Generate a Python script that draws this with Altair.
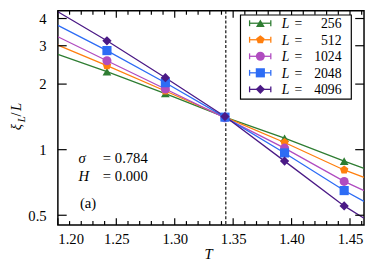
import altair as alt
import pandas as pd

# ---------------- data ----------------
series = ["256", "512", "1024", "2048", "4096"]
colors = ["#2e7d32", "#ff7f0e", "#b04cc0", "#2d6cf5", "#4b1a86"]
pentagon = "M0,-1L0.951,-0.309L0.588,0.809L-0.588,0.809L-0.951,-0.309Z"
shapes = ["triangle-up", pentagon, "circle", "square", "diamond"]
sizes = [80, 90, 100, 95, 80]

T_points = [1.242, 1.292, 1.343, 1.394, 1.445]
xi_256 = [2.28, 1.81, 1.41, 1.129, 0.886]
xi_512 = [2.43, 1.86, 1.41, 1.079, 0.807]
xi_1024 = [2.56, 1.90, 1.40, 1.017, 0.715]
xi_2048 = [2.85, 2.03, 1.41, 0.966, 0.649]
xi_4096 = [3.16, 2.14, 1.42, 0.886, 0.552]

# fit-curve values at the left and right edges of the frame
T_edges = [1.20, 1.462]
edge_256 = [2.74, 0.821]
edge_512 = [3.02, 0.746]
edge_1024 = [3.30, 0.649]
edge_2048 = [3.72, 0.579]
edge_4096 = [4.30, 0.484]

Tc = 1.3437

x_major = [1.20, 1.25, 1.30, 1.35, 1.40, 1.45]
x_minor = [1.21, 1.22, 1.23, 1.24, 1.26, 1.27, 1.28, 1.29, 1.31, 1.32, 1.33,
           1.34, 1.36, 1.37, 1.38, 1.39, 1.41, 1.42, 1.43, 1.44, 1.46]
y_major = [0.5, 1, 2, 3, 4]

x_domain = [1.20, 1.462]
y_domain = [0.451, 4.34]

# ---------------- tables ----------------
pts_vals = [xi_256, xi_512, xi_1024, xi_2048, xi_4096]
edge_vals = [edge_256, edge_512, edge_1024, edge_2048, edge_4096]

rows_p, rows_l = [], []
for i, (s, pv, ev) in enumerate(zip(series, pts_vals, edge_vals)):
    for t, v in zip(T_points, pv):
        rows_p.append({"L": s, "T": t, "v": v, "k": i})
    lt = [T_edges[0]] + T_points + [T_edges[1]]
    lv = [ev[0]] + pv + [ev[1]]
    for t, v in zip(lt, lv):
        rows_l.append({"L": s, "T": t, "v": v, "k": i})
df_p = pd.DataFrame(rows_p)
df_l = pd.DataFrame(rows_l)
df_leg = pd.DataFrame({"L": series, "k": list(range(len(series)))})

W, H = 313, 219
SERIF = "Liberation Serif"

color = alt.Color("L:N", scale=alt.Scale(domain=series, range=colors), legend=None)
shape = alt.Shape("L:N", scale=alt.Scale(domain=series, range=shapes), legend=None)
size = alt.Size("L:N", scale=alt.Scale(domain=series, range=sizes), legend=None)


def X(field):
    return alt.X(field, type="quantitative",
                 scale=alt.Scale(domain=x_domain, nice=False, zero=False),
                 axis=alt.Axis(values=x_major, format=".2f", title="", grid=False,
                               domain=False, ticks=False, tickSize=0,
                               labelFont=SERIF, labelFontSize=15, labelColor="black",
                               labelPadding=7))


def Y(field):
    return alt.Y(field, type="quantitative",
                 scale=alt.Scale(type="log", domain=y_domain, nice=False),
                 axis=alt.Axis(values=y_major, format="~g", title="", grid=False,
                               domain=False, ticks=False, tickSize=0,
                               labelFont=SERIF, labelFontSize=15, labelColor="black",
                               labelPadding=12))


lines = alt.Chart(df_l).mark_line(strokeWidth=1.3, clip=True).encode(
    x=X("T"), y=Y("v"), color=color, detail="L:N", order="T:Q")

points = alt.Chart(df_p).mark_point(filled=True, opacity=1).encode(
    x=X("T"), y=Y("v"), color=color, shape=shape, size=size, order="k:Q")

tc_rule = alt.Chart(pd.DataFrame({"T": [Tc]})).mark_rule(
    color="#222222", strokeWidth=1.3, strokeDash=[3, 2]).encode(x=X("T"))

df_xmaj = pd.DataFrame({"T": x_major})
df_xmin = pd.DataFrame({"T": x_minor})
df_ymaj = pd.DataFrame({"v": y_major})

tick_style = dict(color="black", strokeWidth=1.2)
ticks = [
    alt.Chart(df_xmaj).mark_rule(**tick_style).encode(x=X("T"), y=alt.value(H), y2=alt.value(H - 7)),
    alt.Chart(df_xmaj).mark_rule(**tick_style).encode(x=X("T"), y=alt.value(0), y2=alt.value(7)),
    alt.Chart(df_xmin).mark_rule(**tick_style).encode(x=X("T"), y=alt.value(H), y2=alt.value(H - 4)),
    alt.Chart(df_xmin).mark_rule(**tick_style).encode(x=X("T"), y=alt.value(0), y2=alt.value(4)),
    alt.Chart(df_ymaj).mark_rule(**tick_style).encode(y=Y("v"), x=alt.value(0), x2=alt.value(9)),
    alt.Chart(df_ymaj).mark_rule(**tick_style).encode(y=Y("v"), x=alt.value(W), x2=alt.value(W - 9)),
]

# ---------------- annotations ----------------
def txt(s, x, y, size=15, italic=False, align="left", angle=0):
    kw = dict(text=s, font=SERIF, fontSize=size, align=align, baseline="alphabetic",
              color="black")
    if italic:
        kw["fontStyle"] = "italic"
    if angle:
        kw["angle"] = angle
    return alt.Chart(df_leg.head(1)).mark_text(**kw).encode(x=alt.value(x), y=alt.value(y))


notes = [
    txt("σ", 21, 156, italic=True),
    txt("= 0.784", 46, 156),
    txt("H", 21, 174, italic=True),
    txt("= 0.000", 46, 174),
    txt("(a)", 22.5, 201.5),
    txt("T", 154, 254, italic=True, align="center"),
    txt("ξ", -37.5, 122, italic=True, angle=270),
    txt("L", -33.5, 114, size=11, italic=True, angle=270),
    txt("/", -37.5, 108, angle=270),
    txt("L", -37.5, 102.5, italic=True, angle=270),
]

# ---------------- legend ----------------
leg_base = alt.Chart(df_leg).transform_calculate(
    ly="12.7 + 16.9 * datum.k",
    ly_a="12.7 + 16.9 * datum.k - 3",
    ly_b="12.7 + 16.9 * datum.k + 3",
    ty="12.7 + 16.9 * datum.k + 5",
)
ly = alt.Y("ly:Q", scale=None)
leg_box = alt.Chart(df_leg.head(1)).mark_rect(
    fill="white", stroke="black", strokeWidth=1.2).encode(
    x=alt.value(186.7), x2=alt.value(300), y=alt.value(4.3), y2=alt.value(90.3))
leg_bar = leg_base.mark_rule(strokeWidth=1.3).encode(
    x=alt.value(196), x2=alt.value(217.7), y=ly, color=color)
leg_cap1 = leg_base.mark_rule(strokeWidth=1.3).encode(
    x=alt.value(196), y=alt.Y("ly_a:Q", scale=None), y2="ly_b:Q", color=color)
leg_cap2 = leg_base.mark_rule(strokeWidth=1.3).encode(
    x=alt.value(217.7), y=alt.Y("ly_a:Q", scale=None), y2="ly_b:Q", color=color)
leg_pt = leg_base.mark_point(filled=True, opacity=1).encode(
    x=alt.value(207), y=ly, color=color, shape=shape, size=size)
leg_L = leg_base.mark_text(text="L", font=SERIF, fontSize=14, fontStyle="italic",
                           align="left", baseline="alphabetic", color="black").encode(
    x=alt.value(229), y=alt.Y("ty:Q", scale=None))
leg_eq = leg_base.mark_text(text="=", font=SERIF, fontSize=14, align="left",
                            baseline="alphabetic", color="black").encode(
    x=alt.value(242), y=alt.Y("ty:Q", scale=None))
leg_num = leg_base.mark_text(font=SERIF, fontSize=14, align="right",
                             baseline="alphabetic", color="black").encode(
    x=alt.value(290), y=alt.Y("ty:Q", scale=None), text="L:N")

chart = alt.layer(
    tc_rule, lines, points, *ticks, *notes,
    leg_box, leg_bar, leg_cap1, leg_cap2, leg_pt, leg_L, leg_eq, leg_num,
).resolve_scale(color="shared").properties(
    width=W, height=H,
    autosize=alt.AutoSizeParams(type="none"),
    padding={"left": 51, "top": 0, "right": 1, "bottom": 37},
).configure_view(stroke="black", strokeWidth=1.5)

chart.save("out.html", embed_options={"renderer": "svg", "actions": False})
